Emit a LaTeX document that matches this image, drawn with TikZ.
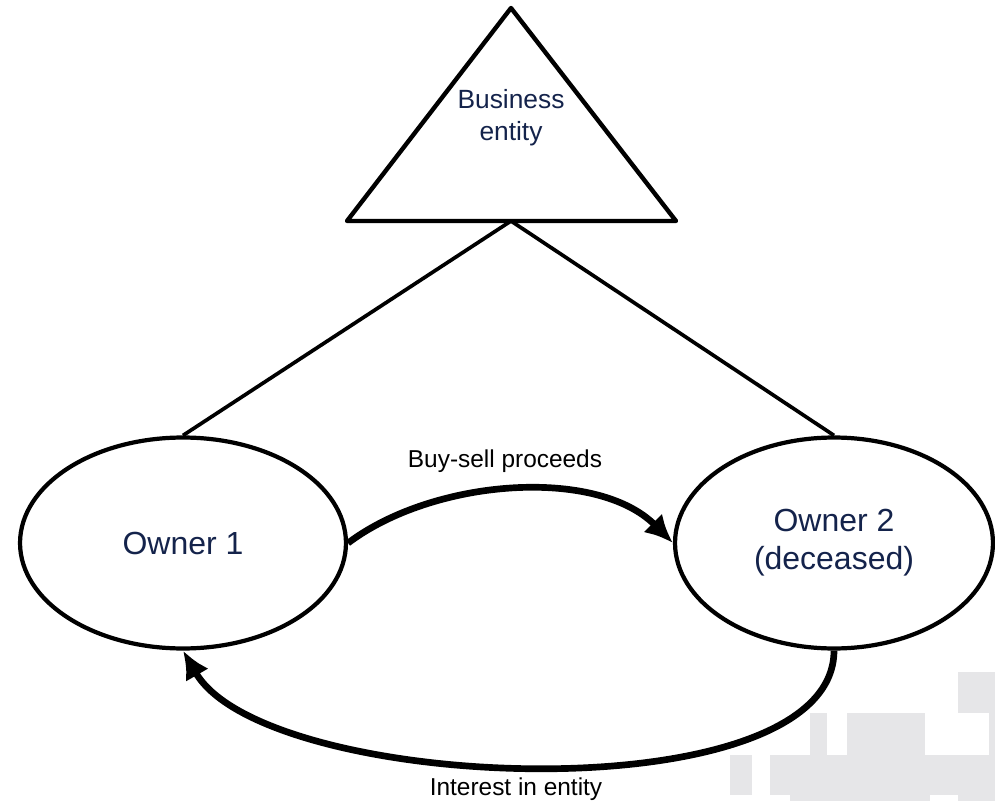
\documentclass[tikz,border=0pt]{standalone}
\usepackage{fontspec}
\setmainfont{Liberation Sans}
\usepackage{xcolor}
\usepackage{tikz}
\usetikzlibrary{shapes.geometric,arrows.meta}
\definecolor{textnavy}{HTML}{14234B}
\definecolor{markgray}{HTML}{E6E6E8}

\begin{document}
\begin{tikzpicture}[x=0.02cm,y=-0.02cm,
    owner/.style={draw,ellipse,line width=2.4pt,inner sep=0pt,minimum height=4.22cm,
        text=textnavy,align=center,font=\fontsize{18.2}{21.6}\selectfont},
    flow/.style={line width=3.8pt,-{Latex[length=16pt,width=15pt]}},
    flowlabel/.style={inner sep=0pt,font=\fontsize{13.9}{16}\selectfont}]
    \useasboundingbox (0,0) rectangle (995,801);
    \fill[markgray] (958,672) rectangle (995,713);
    \fill[markgray] (989,712) rectangle (995,756);
    \fill[markgray] (810,713) rectangle (827,756);
    \fill[markgray] (847,713) rectangle (925,756);
    \fill[markgray] (770,755) rectangle (995,795);
    \fill[markgray] (730,755) rectangle (752,795);
    \fill[markgray] (790,794) rectangle (930,801);
    \fill[markgray] (958,794) rectangle (995,801);
    \coordinate (apex) at (511,8);
    \coordinate (baseleft) at (347,221);
    \coordinate (baseright) at (676,221);
    \coordinate (basemid) at (511,221);
    \draw[line width=2.5pt,line join=round] (apex) -- (baseleft) -- (baseright) -- cycle;
    \node[inner sep=0pt,text=textnavy,align=center,font=\fontsize{15}{18.2}\selectfont] (entity) at (511,118) {Business\\entity};
    \node[owner,minimum width=6.52cm] (own1) at (183,543) {Owner 1};
    \node[owner,minimum width=6.36cm] (own2) at (834,543) {Owner 2\\(deceased)};
    \draw[line width=2.1pt] (basemid) -- (own1.north);
    \draw[line width=2.1pt] (basemid) -- (own2.north);
    \draw[flow] (own1.east) to[out=37,in=135,looseness=0.85] (own2.west);
    \draw[flow] (own2.south) to[out=-90,in=-60,looseness=0.65] (own1.south);
    \node[flowlabel] (buysell) at (505,461) {Buy-sell proceeds};
    \node[flowlabel] (interest) at (516,789) {Interest in entity};
\end{tikzpicture}
\end{document}
